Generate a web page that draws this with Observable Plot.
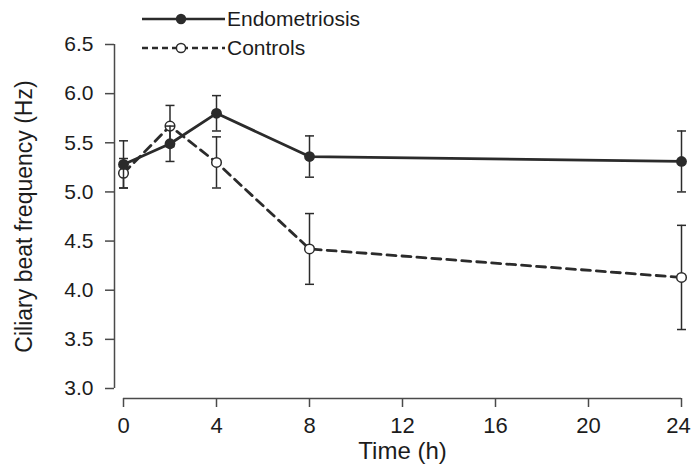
<!DOCTYPE html>
<html>
<head>
<meta charset="utf-8">
<script src="https://cdn.jsdelivr.net/npm/d3@7"></script>
<script src="https://cdn.jsdelivr.net/npm/@observablehq/plot@0.6"></script>
<style>
  html, body { margin: 0; padding: 0; background: #fff; }
  #chart { position: relative; width: 691px; height: 464px; }
  #legend { position: absolute; left: 0; top: 0; }
  text { font-family: "Liberation Sans", Arial, Helvetica, sans-serif; }
</style>
</head>
<body>
<div id="chart"></div>
<script>
// Ciliary beat frequency over time, mean ± SE
const hours = [0, 2, 4, 8, 24];
const endometriosis = [5.28, 5.49, 5.80, 5.36, 5.31];
const endometriosisSE = [0.24, 0.18, 0.18, 0.21, 0.31];
const controls = [5.19, 5.67, 5.30, 4.42, 4.13];
const controlsSE = [0.15, 0.21, 0.26, 0.36, 0.53];
const seriesNames = ["Endometriosis", "Controls"];
const xTicks = [0, 4, 8, 12, 16, 20, 24];
const yTicks = [3.0, 3.5, 4.0, 4.5, 5.0, 5.5, 6.0, 6.5];
const xLabel = "Time (h)";
const yLabel = "Ciliary beat frequency (Hz)";

const ink = "#2b2b2b";
const textInk = "#1c1c1c";
const axisInk = "#4a4a4a";

const rows = (values, errs) => hours.map((t, i) => ({
  t, v: values[i], lo: values[i] - errs[i], hi: values[i] + errs[i]
}));
const endoRows = rows(endometriosis, endometriosisSE);
const ctrlRows = rows(controls, controlsSE);

// horizontal cap used at both ends of every error bar
const cap = { draw(context) { context.moveTo(-4.5, 0); context.lineTo(4.5, 0); } };

function series(data, dashed, filled) {
  return [
    Plot.line(data, {x: "t", y: "v", stroke: ink, strokeWidth: 2.8,
      strokeDasharray: dashed ? "9,6" : null}),
    Plot.ruleX(data, {x: "t", y1: "lo", y2: "hi", stroke: ink, strokeWidth: 1.5}),
    Plot.dot(data, {x: "t", y: "lo", symbol: cap, fill: "none", stroke: ink, strokeWidth: 1.5}),
    Plot.dot(data, {x: "t", y: "hi", symbol: cap, fill: "none", stroke: ink, strokeWidth: 1.5}),
    Plot.dot(data, {x: "t", y: "v", r: filled ? 5.4 : 4.8,
      fill: filled ? ink : "#fff", stroke: ink, strokeWidth: filled ? 0 : 1.5})
  ];
}

const lastTick = xTicks[xTicks.length - 1];
const xTickText = {tickFormat: d3.format("d"), dy: 10, tickSize: 9, tickPadding: 10,
  stroke: axisInk, strokeWidth: 1.5, fontSize: 22, fill: textInk, label: null};

const plot = Plot.plot({
  width: 691,
  height: 464,
  marginLeft: 123,
  marginRight: 10,
  marginTop: 44,
  marginBottom: 76,
  style: {fontFamily: "'Liberation Sans', Arial, sans-serif", color: textInk, background: "#fff"},
  x: {domain: [0, 24]},
  y: {domain: [3, 6.5]},
  marks: [
    Plot.ruleX([0], {dx: -9, stroke: axisInk, strokeWidth: 1.5}),
    Plot.ruleY([3], {dy: 10, stroke: axisInk, strokeWidth: 1.5}),
    Plot.axisY({ticks: yTicks, tickFormat: d3.format(".1f"), dx: -9, tickSize: 9, tickPadding: 12,
      stroke: axisInk, strokeWidth: 1.5, fontSize: 21, fill: textInk, label: null}),
    Plot.axisY({ticks: [], tickFormat: () => "", dx: -9, tickSize: 0, fontSize: 23, fill: textInk,
      label: yLabel, labelAnchor: "center", labelArrow: "none", labelOffset: 108}),
    // tick marks at every position, labels for all but the last
    Plot.axisX({...xTickText, ticks: xTicks,
      tickFormat: (d) => d === lastTick ? "" : d3.format("d")(d)}),
    // last label sits a little inside the right edge
    Plot.axisX({...xTickText, ticks: [lastTick], tickSize: 0, tickPadding: 19, dx: -3}),
    Plot.axisX({ticks: [], tickFormat: () => "", tickSize: 0, fontSize: 24, fill: textInk,
      label: xLabel, labelAnchor: "center", labelArrow: "none", labelOffset: 70}),
    ...series(ctrlRows, true, false),
    ...series(endoRows, false, true)
  ]
});

const chart = document.getElementById("chart");
chart.appendChild(plot);

// legend drawn over the upper-left corner of the plot
const legend = d3.create("svg").attr("id", "legend").attr("width", 400).attr("height", 64);
seriesNames.forEach((name, i) => {
  const y = 19 + i * 29;
  const g = legend.append("g");
  g.append("line").attr("x1", 142).attr("x2", 225).attr("y1", y).attr("y2", y)
    .attr("stroke", ink).attr("stroke-width", 2.6)
    .attr("stroke-dasharray", i === 1 ? "6,4" : null);
  g.append("circle").attr("cx", 181).attr("cy", y).attr("r", i === 0 ? 5.2 : 4.6)
    .attr("fill", i === 0 ? ink : "#fff").attr("stroke", ink).attr("stroke-width", i === 0 ? 0 : 1.5);
  g.append("text").attr("x", 227).attr("y", y).attr("dy", "0.35em")
    .attr("font-size", 21).attr("fill", textInk).text(name);
});
chart.appendChild(legend.node());
</script>
</body>
</html>
